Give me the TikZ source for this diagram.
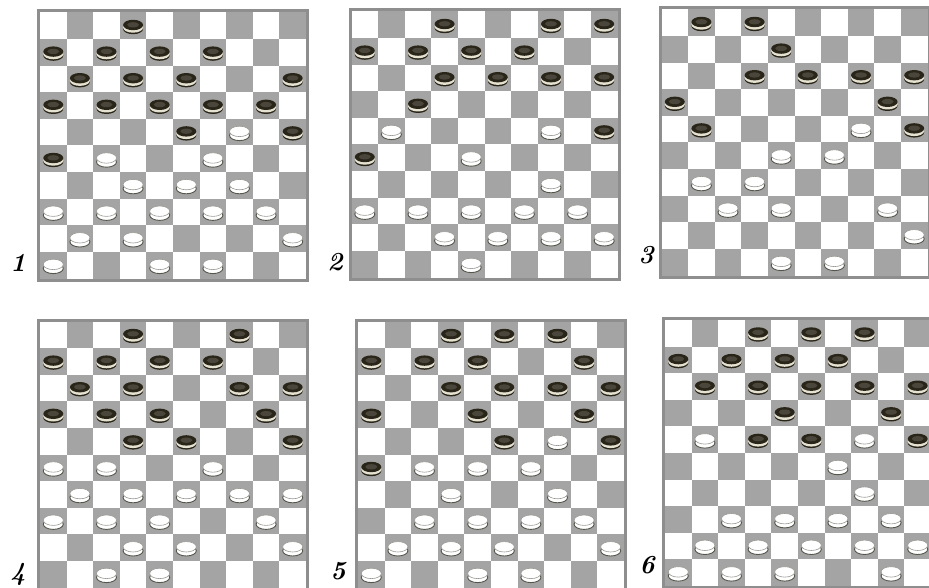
\documentclass[tikz,border=0pt]{standalone}
\usepackage{tikz}
\definecolor{darksquare}{HTML}{A4A4A4}
\definecolor{framegray}{HTML}{8E8E8E}
\definecolor{piecedark}{HTML}{2A2519}
\definecolor{piecerim}{HTML}{E6E2D2}
\definecolor{pieceline}{HTML}{55554C}
\tikzset{
  darkcell/.style={fill=darksquare},
  boardframe/.style={draw=framegray, line width=3pt},
  tag/.style={font=\fontsize{26}{26}\selectfont\bfseries\itshape, inner sep=0pt},
  blackman/.pic={
    \fill[piecedark] (0,3.2) ellipse (10 and 5.2);
    \fill[piecerim] (0,1.7) ellipse (10 and 5.2);
    \fill[piecedark] (0,-0.8) ellipse (10 and 5.2);
    \fill[piecedark!85!white] (0,-1) ellipse (6 and 2.6);
  },
  whiteman/.pic={
    \filldraw[fill=white, draw=pieceline, line width=0.9pt] (0,3.2) ellipse (10 and 5.2);
    \filldraw[fill=white, draw=pieceline!60, line width=0.6pt] (0,-0.8) ellipse (10 and 5.2);
  },
}
\newcommand{\cellsize}{26.6}
% #1,#2 corner of the squares; #3 black men; #4 white men (row/col, row 0 on top)
\newcommand{\drawboard}[4]{%
  \begin{scope}[shift={(#1,#2)}]
    \fill[white] (0,0) rectangle (10*\cellsize,10*\cellsize);
    \foreach \r in {0,...,9}
      \foreach \c in {0,...,9} {
        \pgfmathtruncatemacro{\odd}{mod(\r+\c,2)}
        \ifnum\odd=1 \fill[darkcell] (\c*\cellsize,\r*\cellsize) rectangle ++(\cellsize,\cellsize); \fi
      }
    \draw[boardframe] (-1.5,-1.5) rectangle (10*\cellsize+1.5,10*\cellsize+1.5);
    \foreach \r/\c in {#3}
      \pic at ({(\c+0.5)*\cellsize},{(\r+0.5)*\cellsize}) {blackman};
    \foreach \r/\c in {#4}
      \pic at ({(\c+0.5)*\cellsize},{(\r+0.5)*\cellsize}) {whiteman};
  \end{scope}}

\begin{document}
\begin{tikzpicture}[x=1pt, y=-1pt]
  \useasboundingbox (0,0) rectangle (929,588);
  \fill[white] (0,0) rectangle (929,588);

  % Boards
  \drawboard{40}{12.5}
    {0/3, 1/0,1/2,1/4,1/6, 2/1,2/3,2/5,2/9, 3/0,3/2,3/4,3/6,3/8, 4/5,4/9, 5/0}
    {4/7, 5/2,5/6, 6/3,6/5,6/7, 7/0,7/2,7/4,7/6,7/8, 8/1,8/3,8/9, 9/0,9/4,9/6}
  \drawboard{351.5}{11.5}
    {0/3,0/7,0/9, 1/0,1/2,1/4,1/6, 2/3,2/5,2/7,2/9, 3/2, 4/9, 5/0}
    {4/1,4/7, 5/4, 6/7, 7/0,7/2,7/4,7/6,7/8, 8/3,8/5,8/7,8/9, 9/4}
  \drawboard{661.5}{9.5}
    {0/1,0/3, 1/4, 2/3,2/5,2/7,2/9, 3/0,3/8, 4/1,4/9}
    {4/7, 5/4,5/6, 6/1,6/3, 7/2,7/4,7/8, 8/9, 9/4,9/6}
  \drawboard{40}{321.5}
    {0/3,0/7, 1/0,1/2,1/4,1/6, 2/1,2/3,2/7,2/9, 3/0,3/2,3/4,3/8, 4/3,4/5,4/9}
    {5/0,5/2,5/6, 6/1,6/3,6/5,6/7,6/9, 7/0,7/2,7/4,7/8, 8/3,8/5,8/9, 9/2,9/4}
  \drawboard{358}{321.5}
    {0/3,0/5,0/7, 1/0,1/2,1/4,1/8, 2/3,2/5,2/7,2/9, 3/0,3/4,3/8, 4/5,4/9, 5/0}
    {4/7, 5/2,5/4,5/6, 6/3,6/7, 7/2,7/4,7/6,7/8, 8/1,8/3,8/5,8/9, 9/0,9/4,9/6}
  \drawboard{665}{320}
    {0/3,0/5,0/7, 1/0,1/2,1/4,1/6, 2/1,2/3,2/5,2/7,2/9, 3/4,3/8, 4/3,4/5,4/9}
    {4/1,4/7, 5/6, 6/7, 7/2,7/4,7/6,7/8, 8/1,8/3,8/5,8/7,8/9, 9/0,9/2,9/4,9/8}

  % Numbers
  \node[tag] (tag1) at (18,263) {1};
  \node[tag] (tag2) at (335,262) {2};
  \node[tag] (tag3) at (646,255) {3};
  \node[tag] (tag4) at (18,574) {4};
  \node[tag] (tag5) at (338,571) {5};
  \node[tag] (tag6) at (647,565) {6};
\end{tikzpicture}
\end{document}
